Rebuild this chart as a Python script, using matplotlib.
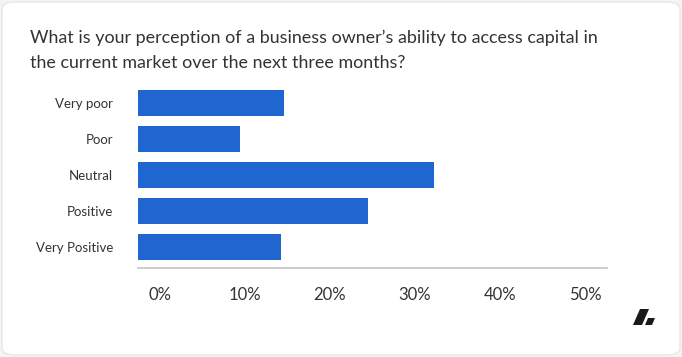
import matplotlib
matplotlib.use("Agg")
import matplotlib.pyplot as plt
from matplotlib.patches import FancyBboxPatch, Polygon

plt.rcParams["font.family"] = ["Lato", "DejaVu Sans"]

TITLE = ("What is your perception of a business owner\u2019s ability to access capital in\n"
         "the current market over the next three months?")
CATS = ["Very poor", "Poor", "Neutral", "Positive", "Very Positive"]
SHARE = [15.6, 10.9, 31.6, 24.5, 15.2]   # % of respondents
TICKS = [0, 10, 20, 30, 40, 50]
BLUE, TXT, AXIS = "#1f66d0", "#333333", "#c9c9c9"

W, H = 682, 357
fig = plt.figure(figsize=(W / 100, H / 100), dpi=100)
fig.patch.set_facecolor("#f4f4f4")
fig.patches.append(FancyBboxPatch((2 / W, 2 / H), 1 - 4 / W, 1 - 4 / H,
                                  boxstyle="round,pad=0,rounding_size=0.02",
                                  transform=fig.transFigure, fc="white", ec="#e8e8e8", lw=1,
                                  zorder=-10))

fig.text(30 / W, 1 - 50.5 / H, TITLE, fontsize=12.9, color=TXT, ha="left", va="center",
         linespacing=1.7)

ax = fig.add_axes([138 / W, 1 - 268.3 / H, (607 - 138) / W, (268.3 - 84.8) / H])
ax.set_zorder(2)
ax.set_facecolor("none")
ax.barh(range(len(CATS)), SHARE, height=0.72, color=BLUE)
ax.set_xlim(0, 50)
ax.set_ylim(4.6, -0.5)
ax.set_yticks(range(len(CATS)))
ax.set_yticklabels(CATS, fontsize=9.5, color=TXT)
ax.tick_params(axis="y", length=0, pad=18)
ax.set_xticks([])
for s in ["top", "right", "left"]:
    ax.spines[s].set_visible(False)
ax.spines["bottom"].set_color(AXIS)
ax.spines["bottom"].set_linewidth(1.3)

# the percentage labels sit on their own evenly spaced scale (0% at 160px, 85px per 10%)
px_per = (607 - 138) / 50


def to_lab(d):
    return (d * px_per - 22) / 8.5


def to_dat(v):
    return (v * 8.5 + 22) / px_per


sec = ax.secondary_xaxis("bottom", functions=(to_lab, to_dat))
sec.set_xticks(TICKS)
sec.set_xticklabels([f"{t}%" for t in TICKS], fontsize=12, color=TXT)
sec.tick_params(length=0, pad=13.5)
sec.spines["bottom"].set_visible(False)

# logo mark
fig.patches.append(Polygon([(640 / W, 1 - 309 / H), (649 / W, 1 - 309 / H),
                            (642 / W, 1 - 325 / H), (633 / W, 1 - 325 / H)],
                           closed=True, transform=fig.transFigure, fc="#1a1a1a"))
fig.patches.append(Polygon([(648 / W, 1 - 318 / H), (655 / W, 1 - 318 / H),
                            (652 / W, 1 - 325 / H), (645 / W, 1 - 325 / H)],
                           closed=True, transform=fig.transFigure, fc="#1a1a1a"))

fig.savefig("out.png", dpi=100)
